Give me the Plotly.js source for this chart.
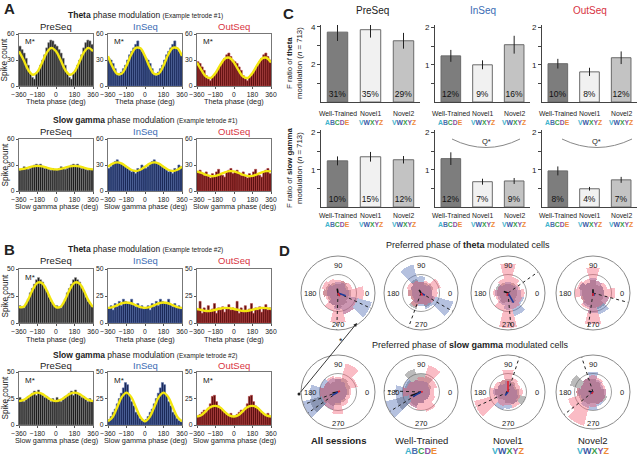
<!DOCTYPE html>
<html><head><meta charset="utf-8">
<script src="https://cdn.plot.ly/plotly-3.0.1.min.js"></script>
<style>html,body{margin:0;padding:0;background:#fff}#c{width:640px;height:458px}</style>
</head><body><div id="c"></div>
<script>
// ---------- DATA ----------
// histogram bins (deg, one cycle; the figure shows two identical cycles)
const phaseBins = [10,30,50,70,90,110,130,150,170,190,210,230,250,270,290,310,330,350];
const fitPhases = [0,45,90,135,180,225,270,315];
// Panel A, tetrode #1, theta
const thetaT1Pre = [46,42,38,32,24,14,10,8,14,18,24,30,36,44,50,53,52,48];
const thetaT1In  = [32,30,26,20,14,12,16,20,24,30,36,40,44,48,52,44,40,36];
const thetaT1Out = [28,26,22,18,12,8,6,10,12,16,20,24,28,32,36,38,34,30];
// Panel A, tetrode #1, slow gamma
const gammaT1Pre = [24,26,28,27,25,26,28,30,31,30,31,28,26,27,25,24,26,25];
const gammaT1In  = [26,28,31,34,36,33,32,30,28,26,24,22,24,20,26,24,30,28];
const gammaT1Out = [22,24,20,18,22,17,15,20,18,22,25,20,18,16,22,24,26,20];
// Panel B, tetrode #2, theta
const thetaT2Pre = [16,14,14,18,22,28,32,36,40,42,40,38,34,30,24,20,18,16];
const thetaT2In  = [14,16,12,18,15,20,16,22,20,18,19,22,17,15,18,14,16,13];
const thetaT2Out = [12,20,9,14,10,16,11,13,18,9,14,12,15,10,13,17,12,14];
// Panel B, tetrode #2, slow gamma
const gammaT2Pre = [26,24,22,24,27,28,30,32,28,33,30,28,26,27,24,22,25,23];
const gammaT2In  = [5,8,12,15,20,25,30,35,40,38,28,22,18,12,10,6,4,3];
const gammaT2Out = [8,10,12,14,12,16,20,27,28,22,18,16,14,12,10,9,11,8];
// fitted curves (values at fitPhases)
const fitThetaT1Pre = [40,30,18.5,13,16.5,27,38.5,44];
const fitThetaT1In  = [34.5,22,14,14.5,23.5,36,44,43.5];
const fitThetaT1Out = [27,18,10.6,9.4,15,24,31.4,32.6];
const fitGammaT1Pre = [25,25.6,27,28.4,29,28.4,27,25.6];
const fitGammaT1In  = [28,31.5,33,31.5,28,24.5,23,24.5];
const fitGammaT1Out = [22.6,20.8,18.5,17.1,17.4,19.2,21.5,22.9];
const fitThetaT2Pre = [14.7,15.1,21.9,31.1,37.3,36.9,30.1,20.9];
const fitThetaT2In  = [14,14.7,16.5,18.3,19,18.3,16.5,14.7];
const fitThetaT2Out = [13,12,11.2,11.4,12.3,13.3,14,13.8];
const fitGammaT2Pre = [22.5,23.7,26.5,29.3,30.5,29.3,26.5,23.7];
const fitGammaT2In  = [3.5,7.5,17,26.5,30.5,26.5,17,7.5];
const fitGammaT2Out = [8,9.5,13.5,17.1,18,16.5,12.3,9];

// Panel C
const groups = ['Well-Trained','Novel1','Novel2'];
const groupLetters = ['ABCDE','VWXYZ','VWXYZ'];
const fThetaPre = [3.72,3.85,3.26], fThetaPreErr = [0.47,0.42,0.42];
const fThetaIn  = [1.24,1.0,1.54],  fThetaInErr  = [0.16,0.12,0.24];
const fThetaOut = [1.03,0.81,1.19], fThetaOutErr = [0.13,0.11,0.17];
const fGammaPre = [1.24,1.35,1.27], fGammaPreErr = [0.12,0.13,0.1];
const fGammaIn  = [1.3,0.68,0.7],   fGammaInErr  = [0.17,0.08,0.08];
const fGammaOut = [0.97,0.49,0.73], fGammaOutErr = [0.12,0.05,0.08];
const pctThetaPre = ['31%','35%','29%'], pctThetaIn = ['12%','9%','16%'], pctThetaOut = ['10%','8%','12%'];
const pctGammaPre = ['10%','15%','12%'], pctGammaIn = ['12%','7%','9%'], pctGammaOut = ['8%','4%','7%'];

// Panel D (rose histograms, 30 deg bins, normalised radius)
const roseAngles = [0,30,60,90,120,150,180,210,240,270,300,330];
const roseThetaAll = {gray:[0.35,0.3,0.35,0.25,0.3,0.35,0.4,0.3,0.35,0.4,0.35,0.3], blue:[0.3,0.25,0.3,0.3,0.25,0.3,0.3,0.25,0.35,0.45,0.6,0.95], red:[0.7,0.4,0.35,0.35,0.4,0.45,0.4,0.35,0.5,0.8,0.6,0.55]};
const roseThetaWT  = {gray:[0.3,0.35,0.3,0.3,0.4,0.3,0.35,0.3,0.45,0.3,0.4,0.35], blue:[0.3,0.3,0.25,0.45,0.8,0.3,0.25,0.25,0.3,0.35,0.45,0.9], red:[0.45,0.55,0.35,0.3,0.35,0.4,0.35,0.3,0.4,0.3,0.35,0.4]};
const roseThetaN1  = {gray:[0.25,0.25,0.3,0.25,0.3,0.35,0.3,0.25,0.3,0.25,0.3,0.25], blue:[0.35,0.3,0.25,0.3,0.25,0.3,0.35,0.3,0.35,0.45,0.65,0.45], red:[0.45,0.35,0.45,0.8,0.4,0.3,0.4,0.35,0.5,0.95,0.45,0.4]};
const roseThetaN2  = {gray:[0.3,0.3,0.25,0.35,0.3,0.4,0.3,0.35,0.35,0.4,0.45,0.3], blue:[0.3,0.3,0.35,0.4,0.3,0.4,0.35,0.3,0.4,0.55,0.6,0.45], red:[0.6,0.4,0.35,0.7,0.4,0.45,0.5,0.35,0.45,0.85,0.4,0.45]};
const roseGammaAll = {gray:[0.3,0.35,0.4,0.35,0.3,0.4,0.5,0.8,0.4,0.35,0.3,0.25], blue:[0.25,0.25,0.3,0.35,0.4,0.5,0.75,1.0,0.5,0.3,0.25,0.25], red:[0.35,0.55,0.8,0.4,0.45,0.4,0.5,0.45,0.5,0.6,0.4,0.35]};
const roseGammaWT  = {gray:[0.25,0.3,0.45,0.5,0.65,0.45,0.5,0.7,0.4,0.3,0.25,0.25], blue:[0.25,0.25,0.3,0.3,0.35,0.5,0.7,1.0,0.45,0.3,0.25,0.25], red:[0.35,0.45,0.75,0.4,0.35,0.4,0.5,0.35,0.45,0.5,0.55,0.4]};
const roseGammaN1  = {gray:[0.3,0.25,0.3,0.35,0.35,0.3,0.35,0.3,0.25,0.3,0.35,0.5], blue:[0.25,0.2,0.25,0.3,0.25,0.3,0.4,0.35,0.5,0.45,0.35,0.3], red:[0.4,0.35,0.4,0.6,0.35,0.4,0.5,0.95,0.4,0.35,0.45,0.35]};
const roseGammaN2  = {gray:[0.3,0.25,0.3,0.35,0.4,0.65,0.45,0.4,0.35,0.3,0.35,0.4], blue:[0.35,0.3,0.35,0.55,0.4,0.35,0.4,0.35,0.45,0.5,0.4,0.35], red:[0.35,0.35,0.4,0.45,0.4,0.35,0.45,0.7,0.95,0.4,0.35,0.35]};
const dashAngles = [[335,268],[250,330],[35,275],[345,262],[200,215],[178,212],[72,205],[108,218]];
const meanVectors = [ // [angle, length] for gray, blue, red
  [[100,0.12],[340,0.22],[300,0.1]], [[120,0.1],[330,0.12],[300,0.08]], [[160,0.12],[300,0.3],[250,0.08]], [[90,0.1],[300,0.08],[270,0.08]],
  [[190,0.15],[210,0.18],[30,0.06]], [[200,0.3],[210,0.25],[10,0.05]], [[180,0.05],[230,0.12],[90,0.3]], [[170,0.12],[200,0.08],[230,0.06]]
];

// ---------- LAYOUT HELPERS ----------
const W=640,H=458;
const fx = x=>x/W, fy = y=>1-y/H;
const FONT = 'Arial, "Liberation Sans", Helvetica, sans-serif';
const BLUE = '#3b6cb4', RED = '#d8343f';
const traces = [];
const layout = {width:W,height:H,margin:{l:0,r:0,t:0,b:0},showlegend:false,
  paper_bgcolor:'#fff',plot_bgcolor:'rgba(0,0,0,0)',font:{family:FONT,color:'#222'},
  annotations:[],shapes:[],bargap:0};
function ann(text,x,y,size,o){o=o||{};layout.annotations.push(Object.assign({text:text,x:fx(x),y:fy(y),xref:'paper',yref:'paper',showarrow:false,xanchor:'center',yanchor:'middle',font:{size:size,family:FONT,color:o.color||'#222'}},o.extra||{}));}

// ---------- HISTOGRAMS (A, B) ----------
const rowsPx = [[34,86],[139,191],[269,323],[372,425]];
const colsPx = [[19,93],[108,182],[197,271]];
const styles = [{c:'#1c1c1c',l:'#8a8a8a'},{c:'#1a2958',l:'#5068a4'},{c:'#5c1010',l:'#b53c3c'}];
const histSets = [
  [thetaT1Pre,thetaT1In,thetaT1Out],[gammaT1Pre,gammaT1In,gammaT1Out],
  [thetaT2Pre,thetaT2In,thetaT2Out],[gammaT2Pre,gammaT2In,gammaT2Out]];
const fitSets = [
  [fitThetaT1Pre,fitThetaT1In,fitThetaT1Out],[fitGammaT1Pre,fitGammaT1In,fitGammaT1Out],
  [fitThetaT2Pre,fitThetaT2In,fitThetaT2Out],[fitGammaT2Pre,fitGammaT2In,fitGammaT2Out]];
const yMax = [60,60,50,50];
const binX = phaseBins.map(p=>p-360).concat(phaseBins);
const fitX = fitPhases.map(p=>p-360).concat(fitPhases).concat([360]);
let ax=0;
for(let r=0;r<4;r++){for(let c=0;c<3;c++){
  ax++; const xs = ax===1?'x':'x'+ax, ys = ax===1?'y':'y'+ax;
  const v = histSets[r][c], f = fitSets[r][c];
  traces.push({type:'bar',x:binX,y:v.concat(v),width:20,xaxis:xs,yaxis:ys,
    marker:{color:styles[c].c,line:{color:styles[c].l,width:0.6}},hoverinfo:'skip'});
  traces.push({type:'scatter',mode:'lines',x:fitX,y:f.concat(f).concat([f[0]]),xaxis:xs,yaxis:ys,
    line:{color:'#f3e60f',width:2.4,shape:'spline'},hoverinfo:'skip'});
  const common = {showline:true,mirror:true,linecolor:'#777',linewidth:1,ticks:'outside',ticklen:2,tickcolor:'#555',
    tickfont:{size:6.8,family:FONT,color:'#222'},showgrid:false,zeroline:false,fixedrange:true};
  layout[ax===1?'xaxis':'xaxis'+ax] = Object.assign({},common,{domain:[fx(colsPx[c][0]),fx(colsPx[c][1])],anchor:ys,
    range:[-360,360],tickvals:[-360,-180,0,180,360]});
  const ym = yMax[r];
  layout[ax===1?'yaxis':'yaxis'+ax] = Object.assign({},common,{domain:[fy(rowsPx[r][1]),fy(rowsPx[r][0])],anchor:xs,
    range:[0,ym],tickvals:[0,ym/2,ym]});
}}
// texts for A,B
ann('<b>A</b>',9,9,15); ann('<b>B</b>',9,249,15);
const rowTitles = [
  ['<b>Theta</b> phase modulation <span style="font-size:6.5px">(Example tetrode #1)</span>',15,27,101,'Theta phase (deg)',60],
  ['<b>Slow gamma</b> phase modulation <span style="font-size:6.5px">(Example tetrode #1)</span>',120,131,206,'Slow gamma phase (deg)',165],
  ['<b>Theta</b> phase modulation <span style="font-size:6.5px">(Example tetrode #2)</span>',249,260,339,'Theta phase (deg)',296],
  ['<b>Slow gamma</b> phase modulation <span style="font-size:6.5px">(Example tetrode #2)</span>',355,365,440,'Slow gamma phase (deg)',398]];
const seqNames = ['PreSeq','InSeq','OutSeq'], seqCols = ['#222',BLUE,RED];
rowTitles.forEach((t,r)=>{
  ann(t[0],145,t[1],8.5);
  for(let c=0;c<3;c++){
    const cx=(colsPx[c][0]+colsPx[c][1])/2;
    ann(seqNames[c],cx,t[2],9.5,{color:seqCols[c]});
    ann(t[4],cx,t[3],7.3);
  }
  ann('Spike count',4.5,t[5],8.2,{extra:{textangle:-90}});
});
const mStars = [[0,0],[0,1],[0,2],[2,0],[3,0],[3,1],[3,2]];
mStars.forEach(m=>{ann('M*',colsPx[m[1]][0]+11,rowsPx[m[0]][0]+8,8);});

// ---------- PANEL C ----------
const cCols = [[321,420],[435,530],[542,637]];
const cRows = [[25,102],[130,207]];
const cData = [[fThetaPre,fThetaIn,fThetaOut],[fGammaPre,fGammaIn,fGammaOut]];
const cErr = [[fThetaPreErr,fThetaInErr,fThetaOutErr],[fGammaPreErr,fGammaInErr,fGammaOutErr]];
const cPct = [[pctThetaPre,pctThetaIn,pctThetaOut],[pctGammaPre,pctGammaIn,pctGammaOut]];
const barFill = ['#7d7d7d','#f1f1f1','#c3c3c3'];
const letterColors = {A:'#3db2cc',B:'#4a6fb0',C:'#3a9e4c',D:'#8c4fa3',E:'#ef8a36',V:'#3db2cc',W:'#3b57a6',X:'#3a9e4c',Y:'#8c4fa3',Z:'#ef8a36'};
function colorWord(w){return w.split('').map(ch=>'<span style="color:'+letterColors[ch]+'">'+ch+'</span>').join('');}
for(let r=0;r<2;r++){for(let c=0;c<3;c++){
  ax++; const xs='x'+ax, ys='y'+ax;
  traces.push({type:'bar',x:[0,1,2],y:cData[r][c],width:0.62,xaxis:xs,yaxis:ys,
    text:cPct[r][c],textposition:'inside',insidetextanchor:'start',constraintext:'none',textangle:0,
    textfont:{size:8.5,family:FONT,color:'#111'},
    marker:{color:barFill,line:{color:'#6a6a6a',width:1}},
    error_y:{type:'data',array:cErr[r][c],color:'#222',thickness:1,width:0},hoverinfo:'skip'});
  const isPre = (r===0&&c===0);
  layout['xaxis'+ax] = {domain:[fx(cCols[c][0]),fx(cCols[c][1])],anchor:ys,range:[-0.5,2.5],showline:true,linecolor:'#444',linewidth:1,
    ticks:'',showticklabels:false,showgrid:false,zeroline:false,fixedrange:true};
  layout['yaxis'+ax] = {domain:[fy(cRows[r][1]),fy(cRows[r][0])],anchor:xs,range:isPre?[0,4.1]:[0,2.07],
    tickvals:isPre?[1,2,3,4]:[0.5,1,1.5,2],ticktext:isPre?['','2','','4']:['','1','','2'],
    showline:true,linecolor:'#444',linewidth:1,ticks:'outside',ticklen:3,tickcolor:'#444',
    tickfont:{size:8,family:FONT,color:'#222'},showgrid:false,zeroline:false,fixedrange:true};
  const gy = r===0?108:215, ly = r===0?117:224;
  for(let g=0;g<3;g++){
    layout.annotations.push({text:groups[g],x:g,y:fy(gy),xref:xs,yref:'paper',showarrow:false,
      font:{size:6.8,family:FONT,color:'#222'}});
    layout.annotations.push({text:'<b>'+colorWord(groupLetters[g])+'</b>',x:g,y:fy(ly),xref:xs,yref:'paper',showarrow:false,
      font:{size:6.8,family:FONT}});
  }
}}
ann('<b>C</b>',288,14,15);
ann('PreSeq',372,10,10); ann('InSeq',483,10,10,{color:BLUE}); ann('OutSeq',590,10,10,{color:RED});
ann('F ratio of <b>theta</b><br>modulation (<i>n</i> = 713)',295,63,7.8,{extra:{textangle:-90}});
ann('F ratio of <b>slow gamma</b><br>modulation (<i>n</i> = 713)',295,168,7.8,{extra:{textangle:-90}});
layout.shapes.push({type:'path',xref:'paper',yref:'paper',path:'M '+fx(452)+','+fy(139)+' Q '+fx(486)+','+fy(156)+' '+fx(520)+','+fy(139),line:{color:'#888',width:1}});
layout.shapes.push({type:'path',xref:'paper',yref:'paper',path:'M '+fx(562)+','+fy(139)+' Q '+fx(597)+','+fy(156)+' '+fx(632)+','+fy(139),line:{color:'#888',width:1}});
ann('Q*',486,141,7.5); ann('Q*',596,141,7.5);

// ---------- PANEL D ----------
const roses = [roseThetaAll,roseThetaWT,roseThetaN1,roseThetaN2,roseGammaAll,roseGammaWT,roseGammaN1,roseGammaN2];
const polCx = [338,421,508,593], polCy = [293,392], R = 37;
const roseCols = {gray:'rgba(85,85,85,0.4)',blue:'rgba(70,100,175,0.4)',red:'rgba(242,88,110,0.4)'};
const vecCols = ['#111','#1d3a9a','#e0202f'];
roses.forEach((rs,i)=>{
  const name = i===0?'polar':'polar'+(i+1);
  const cx = polCx[i%4], cy = polCy[Math.floor(i/4)];
  layout[name] = {domain:{x:[fx(cx-R),fx(cx+R)],y:[fy(cy+R),fy(cy-R)]},bgcolor:'rgba(0,0,0,0)',barmode:'overlay',bargap:0,
    radialaxis:{range:[0,1],tickvals:[0.5],showticklabels:false,ticks:'',showline:false,gridcolor:'#8a8a8a',gridwidth:0.8},
    angularaxis:{showgrid:false,showticklabels:false,ticks:'',linecolor:'#8a8a8a',linewidth:1,rotation:0,direction:'counterclockwise'}};
  ['gray','blue','red'].forEach(k=>{
    traces.push({type:'barpolar',subplot:name,r:rs[k],theta:roseAngles,width:30,marker:{color:roseCols[k],line:{width:0}},hoverinfo:'skip'});
  });
  dashAngles[i].forEach(a=>traces.push({type:'scatterpolar',subplot:name,mode:'lines',r:[0,1],theta:[a,a],line:{color:'#222',width:1,dash:'dot'},hoverinfo:'skip'}));
  meanVectors[i].forEach((mv,k)=>traces.push({type:'scatterpolar',subplot:name,mode:'lines',r:[0,mv[1]],theta:[mv[0],mv[0]],line:{color:vecCols[k],width:1.6},hoverinfo:'skip'}));
  ann('0',cx+29,cy,7.5); ann('90',cx,cy-28,7.5); ann('180',cx-28,cy,7.5); ann('270',cx,cy+31,7.5);
});
ann('<b>D</b>',284,250,15);
ann('Preferred phase of <b>theta</b> modulated cells',468,245,9);
ann('Preferred phase of <b>slow gamma</b> modulated cells',470,345,9);
ann('<b>All sessions</b>',338,440,9.5); ann('Well-Trained',421,440,9.5); ann('Novel1',508,440,9.5); ann('Novel2',593,440,9.5);
ann('<b>'+colorWord('ABCDE')+'</b>',421,451,9); ann('<b>'+colorWord('VWXYZ')+'</b>',508,451,9); ann('<b>'+colorWord('VWXYZ')+'</b>',593,451,9);
// significance connector between All-session theta and slow gamma
layout.annotations.push({x:fx(357),y:fy(323),xref:'paper',yref:'paper',ax:-58,ay:71,showarrow:true,arrowhead:2,arrowsize:0.8,arrowwidth:0.9,arrowcolor:'#222',text:''});
layout.shapes.push({type:'circle',xref:'paper',yref:'paper',x0:fx(297.5),x1:fx(300.5),y0:fy(395.5),y1:fy(392.5),fillcolor:'#222',line:{width:0}});
ann('*',341,341,9);

Plotly.newPlot('c',traces,layout,{staticPlot:true,displayModeBar:false});
</script></body></html>
